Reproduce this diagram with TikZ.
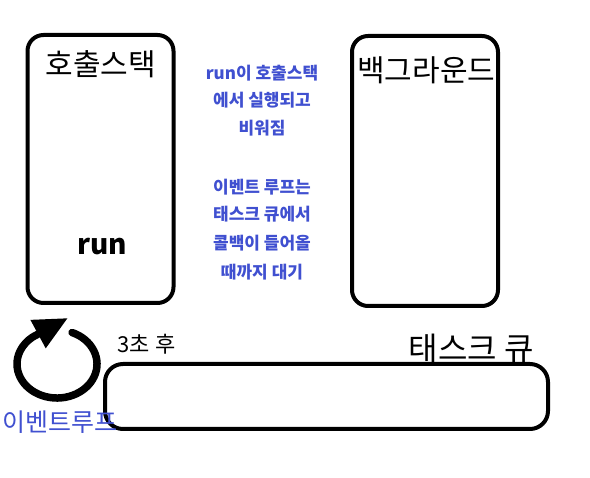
\documentclass[tikz,border=0pt]{standalone}
\usepackage{fontspec,tikz}
\usetikzlibrary{arrows.meta}
\newfontfamily\krfont{Noto Sans CJK KR}
\definecolor{noteblue}{RGB}{64,80,208}
\tikzset{
  panel/.style={draw,line width=4pt,rounded corners=16pt,inner sep=0pt},
  title/.style={inner sep=0pt,font=\fontsize{30}{36}\selectfont\krfont},
  note/.style={anchor=base,inner sep=0pt,text=noteblue,font=\fontsize{17}{20}\selectfont\krfont\bfseries},
}
\begin{document}
\begin{tikzpicture}[x=1pt,y=-1pt]
\path[use as bounding box] (0,0) rectangle (590,478);
% call stack and background
\node[panel,minimum width=146pt,minimum height=268pt] (stack) at (100.5,169) {};
\node[title,anchor=base] (stacktitle) at (101,76) {호출스택};
\node[anchor=base,inner sep=0pt,font=\fontsize{28}{32}\selectfont\krfont\bfseries] (run) at (102,255) {run};
\node[panel,minimum width=146pt,minimum height=270pt] (bg) at (425,171) {};
\node[title,anchor=base west] (bgtitle) at (357,82) {백그라운드};
% task queue
\node[panel,minimum width=443pt,minimum height=65pt,rounded corners=18pt] (queue) at (326.5,396.5) {};
\node[title,anchor=base east,font=\fontsize{32}{38}\selectfont\krfont] (queuetitle) at (534,361) {태스크 큐};
\node[anchor=base west,inner sep=0pt,font=\fontsize{22}{26}\selectfont\krfont] (delay) at (117,353) {3초\hspace{6pt}후};
% notes
\node[note] (n1) at (262,80) {run이 호출스택};
\node[note] (n2) at (262,107) {에서 실행되고};
\node[note] (n3) at (262,135) {비워짐};
\node[note] (n4) at (262,194) {이벤트 루프는};
\node[note] (n5) at (262,221) {태스크 큐에서};
\node[note] (n6) at (262,250) {콜백이 들어올};
\node[note] (n7) at (262,279) {때까지 대기};
% event loop
\coordinate (looptip) at (68,318);
\draw[line width=7.5pt,line cap=round,-{Triangle[length=34pt,width=30pt]}] (72,332.5) arc[start angle=-68,end angle=233,x radius=40,y radius=34] -- (looptip);
\node[anchor=base west,inner sep=0pt,text=noteblue,font=\fontsize{25}{30}\selectfont\krfont] (looplabel) at (2,432) {이벤트루프};
\end{tikzpicture}
\end{document}
